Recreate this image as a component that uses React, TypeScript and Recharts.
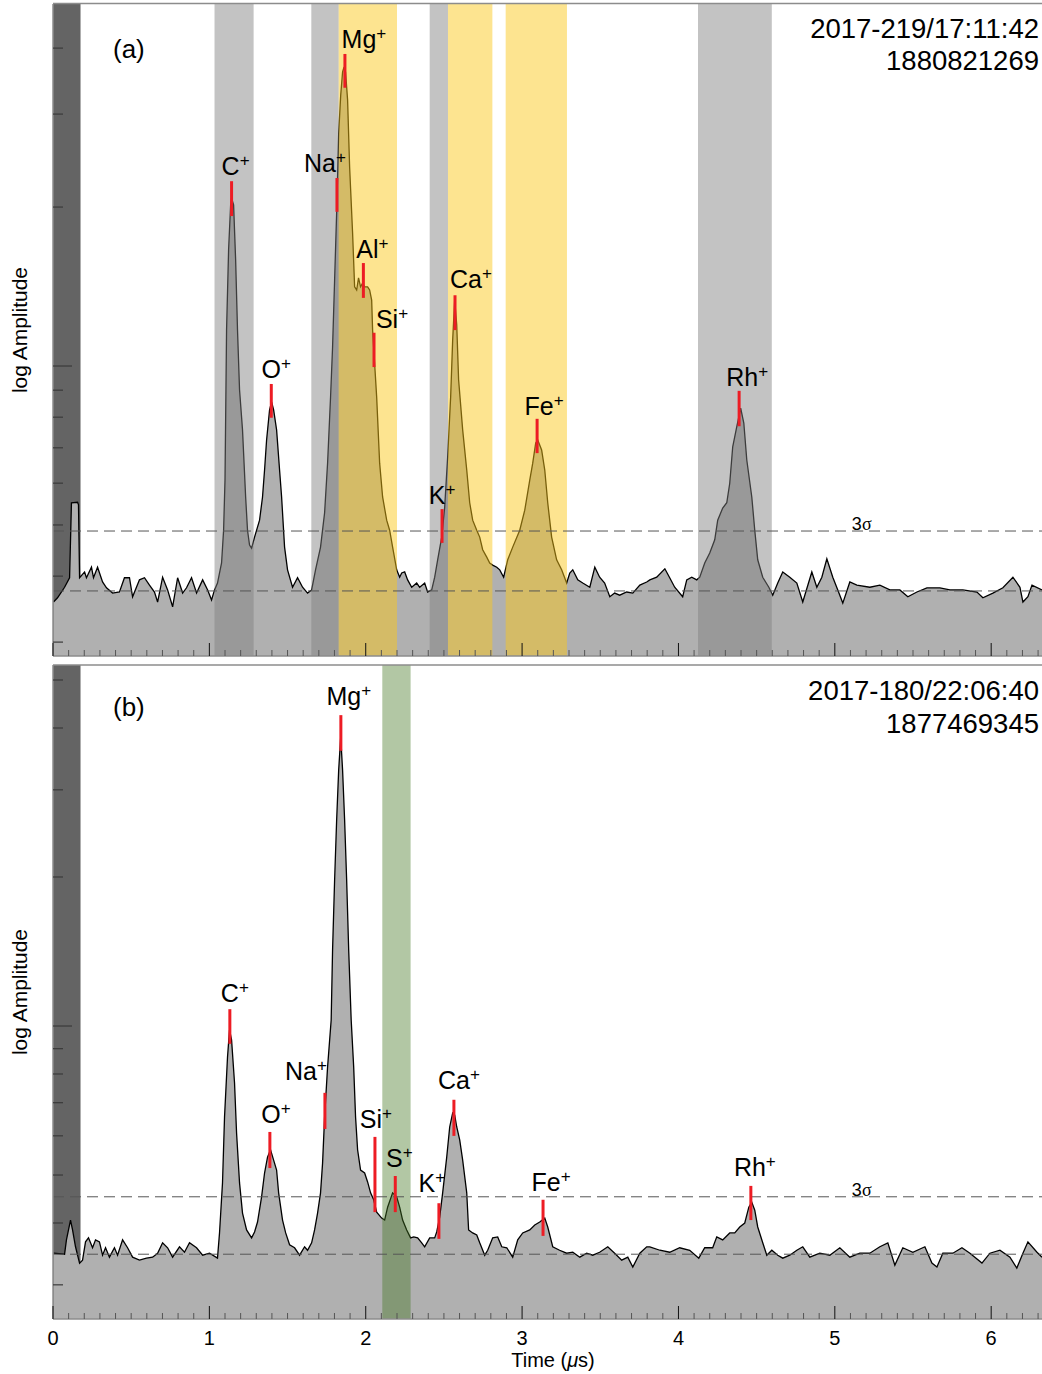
import React from "react";
import {
  ComposedChart,
  Area,
  XAxis,
  YAxis,
  ReferenceArea,
  ReferenceLine,
  ReferenceDot,
} from "recharts";

const FONT = '"Liberation Sans", Arial, Helvetica, sans-serif';
const W = 1042;

// time axis, µs
const majorTicks = [0, 1, 2, 3, 4, 5, 6];
const timeEnd = 6.325;
const timeTicks: number[] = [];
majorTicks.forEach((m) => {
  for (let k = 0; k < 10; k++) {
    const v = Math.round((m + k / 10) * 10) / 10;
    if (v <= timeEnd) timeTicks.push(v);
  }
});

// ---------- panel (a) 2017-219/17:11:42 ----------
const timeA = [
  0.003, 0.029, 0.074, 0.106, 0.118, 0.157, 0.163, 0.17, 0.202, 0.214,
  0.246, 0.259, 0.285, 0.317, 0.342, 0.381, 0.425, 0.457, 0.489, 0.509,
  0.553, 0.585, 0.617, 0.649, 0.669, 0.701, 0.733, 0.765, 0.797, 0.829,
  0.854, 0.886, 0.918, 0.957, 0.989, 1.014, 1.033, 1.052, 1.078, 1.091,
  1.1, 1.11, 1.123, 1.136, 1.142, 1.155, 1.168, 1.18, 1.193, 1.212,
  1.232, 1.244, 1.257, 1.27, 1.289, 1.321, 1.34, 1.353, 1.366, 1.385,
  1.398, 1.411, 1.43, 1.449, 1.462, 1.481, 1.5, 1.532, 1.564, 1.596,
  1.628, 1.654, 1.679, 1.711, 1.737, 1.756, 1.775, 1.788, 1.801, 1.814,
  1.827, 1.84, 1.852, 1.859, 1.871, 1.884, 1.897, 1.916, 1.929, 1.942,
  1.954, 1.967, 1.98, 1.993, 2.012, 2.025, 2.038, 2.044, 2.07, 2.089,
  2.108, 2.134, 2.153, 2.172, 2.198, 2.217, 2.23, 2.249, 2.268, 2.294,
  2.326, 2.345, 2.377, 2.396, 2.422, 2.441, 2.46, 2.486, 2.505, 2.524,
  2.543, 2.556, 2.569, 2.582, 2.594, 2.62, 2.646, 2.665, 2.684, 2.71,
  2.729, 2.748, 2.774, 2.793, 2.812, 2.838, 2.857, 2.882, 2.908, 2.94,
  2.985, 3.017, 3.049, 3.068, 3.087, 3.1, 3.125, 3.145, 3.164, 3.189,
  3.221, 3.253, 3.285, 3.305, 3.324, 3.356, 3.388, 3.433, 3.465, 3.496,
  3.528, 3.561, 3.592, 3.624, 3.669, 3.708, 3.753, 3.797, 3.817, 3.861,
  3.913, 3.944, 3.976, 4.027, 4.053, 4.085, 4.117, 4.136, 4.168, 4.2,
  4.232, 4.251, 4.283, 4.309, 4.328, 4.347, 4.373, 4.398, 4.418, 4.437,
  4.469, 4.488, 4.507, 4.539, 4.578, 4.603, 4.635, 4.667, 4.712, 4.757,
  4.795, 4.853, 4.885, 4.917, 4.949, 4.987, 5.019, 5.051, 5.096, 5.141,
  5.224, 5.288, 5.352, 5.416, 5.467, 5.525, 5.589, 5.672, 5.736, 5.819,
  5.909, 5.947, 6.011, 6.075, 6.139, 6.184, 6.203, 6.235, 6.261, 6.325,
];
const logAmpA = [
  0.553, 0.561, 0.581, 0.599, 0.741, 0.742, 0.737, 0.599, 0.61, 0.599,
  0.619, 0.599, 0.619, 0.591, 0.58, 0.57, 0.572, 0.599, 0.599, 0.563,
  0.595, 0.599, 0.585, 0.572, 0.553, 0.6, 0.576, 0.544, 0.599, 0.57,
  0.58, 0.599, 0.57, 0.595, 0.576, 0.557, 0.576, 0.589, 0.627, 0.689,
  0.784, 1.068, 1.22, 1.305, 1.318, 1.305, 1.201, 1.068, 0.955, 0.879,
  0.752, 0.689, 0.661, 0.655, 0.676, 0.708, 0.752, 0.803, 0.86, 0.917,
  0.932, 0.917, 0.879, 0.803, 0.752, 0.657, 0.614, 0.581, 0.599, 0.581,
  0.57, 0.576, 0.614, 0.657, 0.722, 0.816, 0.941, 1.036, 1.163, 1.29,
  1.441, 1.513, 1.557, 1.564, 1.557, 1.504, 1.377, 1.252, 1.15, 1.144,
  1.167, 1.15, 1.157, 1.15, 1.15, 1.144, 1.125, 1.068, 0.941, 0.816,
  0.752, 0.708, 0.689, 0.657, 0.614, 0.6, 0.608, 0.61, 0.595, 0.581,
  0.589, 0.581, 0.589, 0.572, 0.576, 0.6, 0.633, 0.676, 0.733, 0.828,
  0.941, 1.049, 1.125, 1.078, 0.974, 0.879, 0.803, 0.741, 0.708, 0.689,
  0.676, 0.652, 0.638, 0.627, 0.623, 0.619, 0.614, 0.6, 0.633, 0.657,
  0.689, 0.727, 0.784, 0.816, 0.854, 0.86, 0.841, 0.803, 0.741, 0.676,
  0.633, 0.614, 0.589, 0.608, 0.614, 0.595, 0.589, 0.581, 0.619, 0.6,
  0.589, 0.563, 0.57, 0.566, 0.572, 0.57, 0.585, 0.591, 0.595, 0.6,
  0.616, 0.599, 0.581, 0.563, 0.595, 0.6, 0.595, 0.6, 0.627, 0.646,
  0.671, 0.708, 0.731, 0.741, 0.778, 0.847, 0.885, 0.92, 0.892, 0.822,
  0.752, 0.689, 0.633, 0.6, 0.581, 0.566, 0.589, 0.61, 0.6, 0.589,
  0.553, 0.61, 0.581, 0.6, 0.635, 0.6, 0.576, 0.551, 0.591, 0.585,
  0.581, 0.585, 0.576, 0.576, 0.563, 0.572, 0.58, 0.58, 0.576, 0.576,
  0.572, 0.561, 0.57, 0.58, 0.6, 0.581, 0.553, 0.563, 0.585, 0.576,
];
const ampTicksA = [3, 4, 5, 6, 7, 8, 9, 10, 20, 30, 40];
const domainA: [number, number] = [0.4508, 1.6856];
const noiseA = 0.574;
const sigma3A = 0.6875;
const darkBandA: [number, number] = [0, 0.176];
const grayBandsA: [number, number][] = [
  [1.033, 1.283],
  [1.652, 1.827],
  [2.409, 2.526],
  [4.125, 4.597],
];
const yellowBandsA: [number, number][] = [
  [1.827, 2.2],
  [2.526, 2.81],
  [2.895, 3.287],
];
const ionsA = [
  { ion: "C", t: 1.142, top: 1.35, bottom: 1.284 },
  { ion: "O", t: 1.396, top: 0.966, bottom: 0.902 },
  { ion: "Na", t: 1.816, top: 1.356, bottom: 1.292 },
  { ion: "Mg", t: 1.867, top: 1.591, bottom: 1.527 },
  { ion: "Al", t: 1.985, top: 1.195, bottom: 1.129 },
  { ion: "Si", t: 2.053, top: 1.063, bottom: 0.998 },
  { ion: "K", t: 2.488, top: 0.729, bottom: 0.665 },
  { ion: "Ca", t: 2.571, top: 1.134, bottom: 1.068 },
  { ion: "Fe", t: 3.096, top: 0.9, bottom: 0.835 },
  { ion: "Rh", t: 4.388, top: 0.953, bottom: 0.886 },
];

// ---------- panel (b) 2017-180/22:06:40 ----------
const timeB = [
  0.003, 0.074, 0.086, 0.112, 0.125, 0.144, 0.17, 0.189, 0.208, 0.227,
  0.253, 0.272, 0.297, 0.317, 0.336, 0.361, 0.393, 0.413, 0.445, 0.477,
  0.509, 0.553, 0.598, 0.637, 0.669, 0.701, 0.733, 0.765, 0.809, 0.841,
  0.873, 0.918, 0.957, 1.001, 1.052, 1.065, 1.084, 1.097, 1.116, 1.129,
  1.142, 1.161, 1.174, 1.193, 1.212, 1.238, 1.27, 1.289, 1.308, 1.334,
  1.353, 1.372, 1.391, 1.411, 1.43, 1.443, 1.468, 1.488, 1.513, 1.545,
  1.577, 1.609, 1.628, 1.654, 1.673, 1.692, 1.711, 1.724, 1.737, 1.756,
  1.779, 1.788, 1.801, 1.814, 1.827, 1.84, 1.852, 1.865, 1.878, 1.891,
  1.907, 1.923, 1.935, 1.948, 1.967, 1.993, 2.012, 2.031, 2.051, 2.07,
  2.102, 2.121, 2.14, 2.172, 2.198, 2.217, 2.236, 2.262, 2.287, 2.307,
  2.332, 2.358, 2.377, 2.409, 2.441, 2.454, 2.473, 2.492, 2.518, 2.537,
  2.556, 2.569, 2.582, 2.601, 2.62, 2.646, 2.658, 2.684, 2.71, 2.729,
  2.761, 2.78, 2.812, 2.844, 2.87, 2.902, 2.94, 2.972, 3.004, 3.049,
  3.081, 3.113, 3.145, 3.164, 3.196, 3.24, 3.285, 3.324, 3.369, 3.413,
  3.452, 3.496, 3.548, 3.592, 3.637, 3.676, 3.708, 3.753, 3.797, 3.817,
  3.881, 3.944, 4.008, 4.072, 4.13, 4.168, 4.219, 4.245, 4.283, 4.328,
  4.36, 4.392, 4.424, 4.45, 4.469, 4.488, 4.507, 4.539, 4.565, 4.597,
  4.635, 4.667, 4.712, 4.757, 4.795, 4.84, 4.904, 4.968, 5.032, 5.096,
  5.16, 5.224, 5.288, 5.339, 5.384, 5.435, 5.499, 5.576, 5.621, 5.653,
  5.691, 5.755, 5.813, 5.864, 5.941, 5.992, 6.056, 6.12, 6.164, 6.203,
  6.235, 6.293, 6.325,
];
const logAmpB = [
  0.541, 0.539, 0.568, 0.608, 0.588, 0.554, 0.521, 0.527, 0.564, 0.572,
  0.552, 0.568, 0.564, 0.537, 0.552, 0.533, 0.552, 0.537, 0.568, 0.552,
  0.533, 0.527, 0.531, 0.533, 0.541, 0.562, 0.552, 0.533, 0.554, 0.543,
  0.562, 0.552, 0.537, 0.541, 0.531, 0.582, 0.683, 0.816, 0.937, 0.992,
  0.972, 0.885, 0.784, 0.683, 0.622, 0.588, 0.572, 0.584, 0.604, 0.655,
  0.703, 0.735, 0.75, 0.729, 0.709, 0.663, 0.608, 0.582, 0.558, 0.552,
  0.537, 0.554, 0.547, 0.562, 0.588, 0.622, 0.663, 0.723, 0.816, 0.917,
  1.012, 1.154, 1.295, 1.416, 1.517, 1.584, 1.517, 1.416, 1.295, 1.154,
  1.012, 0.917, 0.816, 0.75, 0.709, 0.703, 0.685, 0.663, 0.649, 0.624,
  0.612, 0.608, 0.634, 0.663, 0.655, 0.634, 0.608, 0.588, 0.572, 0.574,
  0.572, 0.562, 0.554, 0.572, 0.572, 0.584, 0.614, 0.663, 0.735, 0.796,
  0.824, 0.82, 0.796, 0.77, 0.729, 0.663, 0.588, 0.582, 0.578, 0.562,
  0.537, 0.547, 0.572, 0.574, 0.554, 0.552, 0.533, 0.568, 0.582, 0.588,
  0.598, 0.604, 0.612, 0.594, 0.554, 0.547, 0.541, 0.543, 0.533, 0.541,
  0.537, 0.543, 0.554, 0.541, 0.527, 0.533, 0.513, 0.541, 0.554, 0.554,
  0.547, 0.543, 0.552, 0.547, 0.531, 0.552, 0.552, 0.574, 0.568, 0.582,
  0.582, 0.594, 0.602, 0.634, 0.644, 0.628, 0.594, 0.562, 0.537, 0.547,
  0.537, 0.531, 0.537, 0.547, 0.554, 0.533, 0.541, 0.537, 0.552, 0.533,
  0.541, 0.541, 0.554, 0.562, 0.517, 0.552, 0.543, 0.554, 0.521, 0.513,
  0.541, 0.541, 0.552, 0.541, 0.521, 0.541, 0.547, 0.533, 0.511, 0.541,
  0.564, 0.543, 0.533,
];
const ampTicksB = [3, 4, 5, 6, 7, 8, 9, 10, 20, 30, 40, 50];
const domainB: [number, number] = [0.4081, 1.7293];
const noiseB = 0.539;
const sigma3B = 0.655;
const darkBandB: [number, number] = [0, 0.176];
const greenBandsB: [number, number][] = [[2.106, 2.287]];
const ionsB = [
  { ion: "C", t: 1.131, top: 1.034, bottom: 0.964 },
  { ion: "O", t: 1.387, top: 0.786, bottom: 0.713 },
  { ion: "Na", t: 1.739, top: 0.865, bottom: 0.792 },
  { ion: "Mg", t: 1.841, top: 1.628, bottom: 1.556 },
  { ion: "Si", t: 2.059, top: 0.776, bottom: 0.624 },
  { ion: "S", t: 2.189, top: 0.697, bottom: 0.624 },
  { ion: "K", t: 2.468, top: 0.642, bottom: 0.57 },
  { ion: "Ca", t: 2.564, top: 0.851, bottom: 0.778 },
  { ion: "Fe", t: 3.134, top: 0.649, bottom: 0.576 },
  { ion: "Rh", t: 4.463, top: 0.677, bottom: 0.608 },
];

// label nudges in px: [dx from marker, gap above marker top]
const nudgeA: Record<string, [number, number]> = {
  C: [4, 6], O: [5, 6], Na: [-12, 6], Mg: [19, 6], Al: [9, 5],
  Si: [18, 5], K: [0, 5], Ca: [16, 7], Fe: [7, 4], Rh: [8, 5],
};
const nudgeB: Record<string, [number, number]> = {
  C: [5, 7], O: [6, 9], Na: [-19, 13], Mg: [8, 10], Si: [1, 9],
  S: [4, 9], K: [-7, 11], Ca: [5, 11], Fe: [8, 9], Rh: [4, 10],
};
const sigmaLabelT = 5.109;

const timeTick = (showLabel: boolean) => (props: any) => {
  const { x, y, payload } = props;
  const v = payload.value;
  const major = Math.abs(v - Math.round(v)) < 1e-6;
  return (
    <g>
      <line x1={x} x2={x} y1={y} y2={y - (major ? 13 : 6)} stroke={major ? "#111" : "#555"} strokeWidth={1} />
      {showLabel && major && (
        <text x={x} y={y + 26} textAnchor="middle" fontSize={20} fontFamily={FONT} fill="#000">
          {Math.round(v)}
        </text>
      )}
    </g>
  );
};

const ampTick = (props: any) => {
  const { x, y, payload } = props;
  const decade = Math.abs(payload.value - 1) < 1e-6;
  return <line x1={x} x2={x + (decade ? 19 : 10)} y1={y} y2={y} stroke="#3a3a3a" strokeWidth={1.2} />;
};

const ionLabel = (name: string, dx: number, dy: number) => (s: any) => (
  <text x={s.cx + dx} y={s.cy - dy} textAnchor="middle" fontSize={25} fontFamily={FONT} fill="#000">
    {name}
    <tspan fontSize={17} dy={-9}>+</tspan>
  </text>
);

type Ion = { ion: string; t: number; top: number; bottom: number };
type PanelProps = {
  time: number[];
  logAmp: number[];
  ampTicks: number[];
  domain: [number, number];
  noise: number;
  sigma3: number;
  dark: [number, number];
  grayBands?: [number, number][];
  yellowBands?: [number, number][];
  greenBands?: [number, number][];
  ions: Ion[];
  nudge: Record<string, [number, number]>;
  height: number;
  axisHeight: number;
  showLabels: boolean;
};

function Panel(p: PanelProps) {
  const data = p.time.map((t, i) => ({ t, amp: p.logAmp[i] }));
  return (
    <ComposedChart width={W} height={p.height} data={data} margin={{ top: 4, right: 0, bottom: 0, left: 0 }}>
      <ReferenceArea x1={p.dark[0]} x2={p.dark[1]} fill="#646464" fillOpacity={1} stroke="none" zIndex={50} />
      <Area
        type="linear"
        dataKey="amp"
        stroke="#000"
        strokeWidth={1.3}
        fill="#b0b0b0"
        fillOpacity={1}
        baseValue={p.domain[0]}
        dot={false}
        activeDot={false}
        isAnimationActive={false}
      />
      {(p.grayBands || []).map(([a, b]) => (
        <ReferenceArea key={"g" + a} x1={a} x2={b} fill="#808080" fillOpacity={0.47} stroke="none" zIndex={150} />
      ))}
      {(p.yellowBands || []).map(([a, b]) => (
        <ReferenceArea key={"y" + a} x1={a} x2={b} fill="#fbc716" fillOpacity={0.48} stroke="none" zIndex={150} />
      ))}
      {(p.greenBands || []).map(([a, b]) => (
        <ReferenceArea key={"s" + a} x1={a} x2={b} fill="#437721" fillOpacity={0.41} stroke="none" zIndex={150} />
      ))}
      <ReferenceLine y={p.sigma3} stroke="#555" strokeWidth={1} strokeDasharray="11 6" zIndex={400} />
      <ReferenceLine y={p.noise} stroke="#555" strokeWidth={1} strokeDasharray="11 6" zIndex={400} />
      <ReferenceDot
        x={sigmaLabelT}
        y={p.sigma3}
        r={0}
        zIndex={2000}
        shape={(s: any) => (
          <text x={s.cx} y={s.cy - 1} fontSize={18} fontFamily={FONT} fill="#000">
            3<tspan fontFamily='"Liberation Serif", serif'>σ</tspan>
          </text>
        )}
      />
      {p.ions.map((d) => (
        <ReferenceLine
          key={"m" + d.ion}
          segment={[
            { x: d.t, y: d.top },
            { x: d.t, y: d.bottom },
          ]}
          stroke="#ed1c24"
          strokeWidth={3}
          zIndex={450}
        />
      ))}
      {p.ions.map((d) => (
        <ReferenceDot
          key={"l" + d.ion}
          x={d.t}
          y={d.top}
          r={0}
          zIndex={2000}
          shape={ionLabel(d.ion, p.nudge[d.ion][0], p.nudge[d.ion][1])}
        />
      ))}
      <XAxis
        type="number"
        dataKey="t"
        domain={[0, timeEnd]}
        allowDataOverflow
        ticks={timeTicks}
        interval={0}
        tickSize={0}
        tickMargin={0}
        tickLine={false}
        axisLine={{ stroke: "#8c8c8c", strokeWidth: 1.5 }}
        height={p.axisHeight}
        tick={timeTick(p.showLabels)}
      />
      <YAxis
        type="number"
        domain={p.domain}
        allowDataOverflow
        ticks={p.ampTicks.map((v) => Math.log10(v))}
        interval={0}
        tickSize={0}
        tickMargin={0}
        tickLine={false}
        axisLine={{ stroke: "#8c8c8c", strokeWidth: 1.5 }}
        width={53}
        tick={ampTick}
      />
    </ComposedChart>
  );
}

export default function App() {
  return (
    <div style={{ position: "absolute", left: 0, top: 0, width: W, height: 1374, background: "#fff", fontFamily: FONT }}>
      <div style={{ position: "absolute", left: 0, top: 0 }}>
        <Panel
          time={timeA}
          logAmp={logAmpA}
          ampTicks={ampTicksA}
          domain={domainA}
          noise={noiseA}
          sigma3={sigma3A}
          dark={darkBandA}
          grayBands={grayBandsA}
          yellowBands={yellowBandsA}
          ions={ionsA}
          nudge={nudgeA}
          height={658}
          axisHeight={2}
          showLabels={false}
        />
      </div>
      <div style={{ position: "absolute", left: 0, top: 661 }}>
        <Panel
          time={timeB}
          logAmp={logAmpB}
          ampTicks={ampTicksB}
          domain={domainB}
          noise={noiseB}
          sigma3={sigma3B}
          dark={darkBandB}
          greenBands={greenBandsB}
          ions={ionsB}
          nudge={nudgeB}
          height={713}
          axisHeight={55}
          showLabels={true}
        />
      </div>
      <svg
        width={W}
        height={1374}
        style={{ position: "absolute", left: 0, top: 0, pointerEvents: "none" }}
        fontFamily={FONT}
      >
        <line x1={53} x2={W} y1={3.5} y2={3.5} stroke="#8c8c8c" strokeWidth={1.5} />
        <line x1={53} x2={W} y1={665} y2={665} stroke="#8c8c8c" strokeWidth={1.5} />
        <text x={113} y={58} fontSize={26}>(a)</text>
        <text x={113} y={716} fontSize={26}>(b)</text>
        <text x={1039} y={38} fontSize={27.5} textAnchor="end">2017-219/17:11:42</text>
        <text x={1039} y={70} fontSize={27.5} textAnchor="end">1880821269</text>
        <text x={1039} y={700} fontSize={27.5} textAnchor="end">2017-180/22:06:40</text>
        <text x={1039} y={733} fontSize={27.5} textAnchor="end">1877469345</text>
        <text transform="translate(27,330) rotate(-90)" fontSize={21} textAnchor="middle">log Amplitude</text>
        <text transform="translate(27,992) rotate(-90)" fontSize={21} textAnchor="middle">log Amplitude</text>
        <text x={553} y={1367} fontSize={20} textAnchor="middle">
          Time (<tspan fontStyle="italic">μ</tspan>s)
        </text>
      </svg>
    </div>
  );
}
